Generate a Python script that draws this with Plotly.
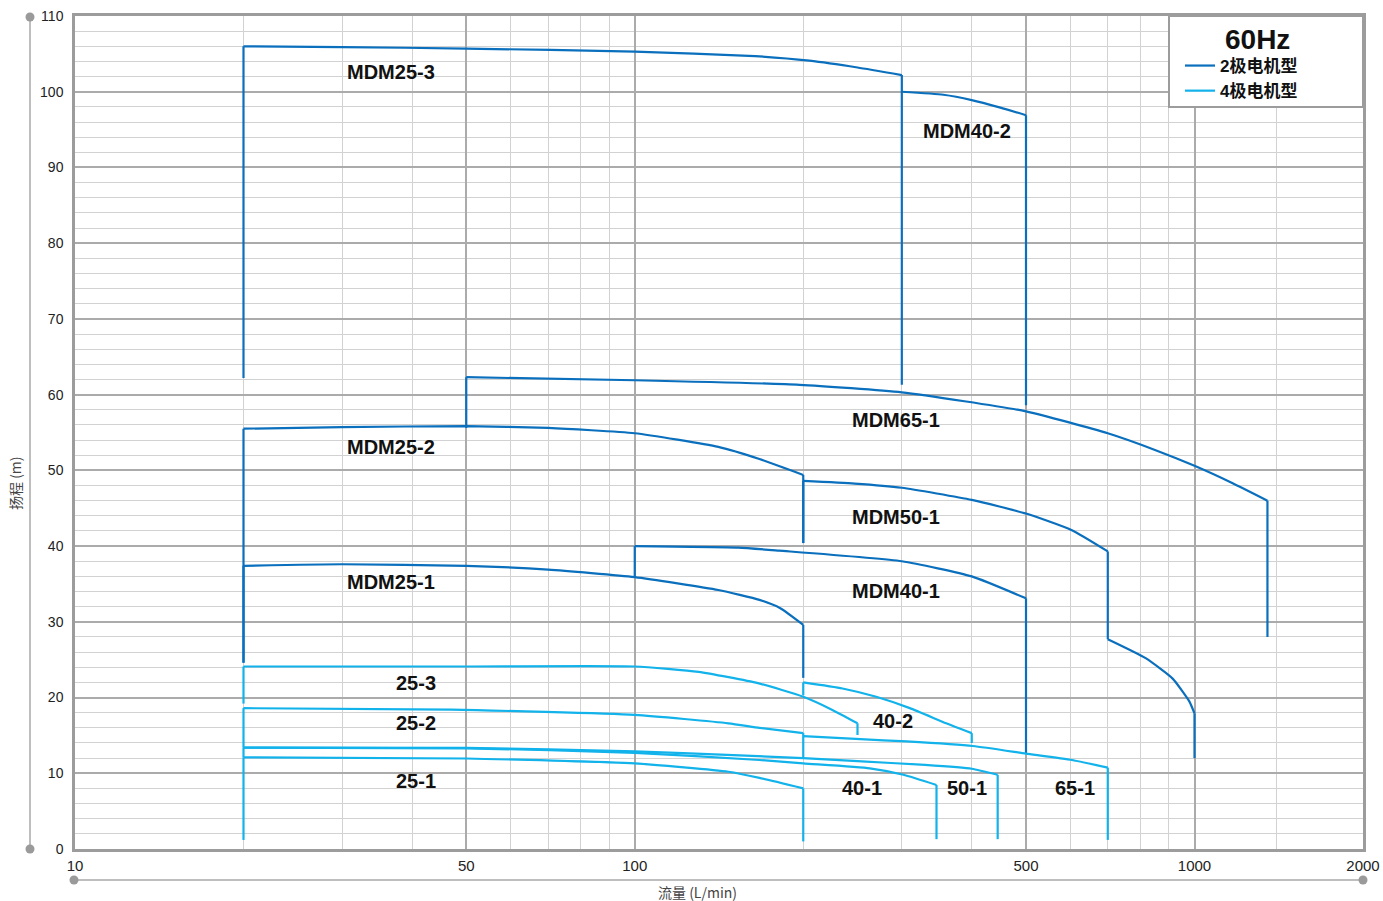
import math
import plotly.graph_objects as go

# ---------------- data (flow Q in L/min, head H in m) ----------------
# 2-pole motor curves
MDM25_3_Q = [20, 30, 50, 100, 164, 205, 250, 300]
MDM25_3_H = [106.0, 105.9, 105.7, 105.3, 104.7, 104.1, 103.2, 102.2]
MDM25_3_DROP = [62.2, 61.3]

MDM40_2_Q = [300, 356, 400, 450, 500]
MDM40_2_H = [100.0, 99.6, 98.9, 97.9, 96.9]
MDM40_2_DROP = [None, 58.6]

MDM65_1_Q = [50, 100, 197, 300, 500, 700, 850, 1000, 1170, 1350]
MDM65_1_H = [62.3, 61.9, 61.3, 60.3, 57.8, 54.9, 52.7, 50.6, 48.3, 46.0]
MDM65_1_DROP = [55.6, 28.0]

MDM25_2_Q = [20, 30, 50, 70, 100, 141, 167, 200]
MDM25_2_H = [55.5, 55.7, 55.85, 55.6, 54.9, 53.1, 51.5, 49.4]
MDM25_2_DROP = [24.6, 40.4]

MDM50_1_Q = [200, 247, 300, 400, 500, 604, 700]
MDM50_1_H = [48.6, 48.25, 47.7, 46.1, 44.3, 42.1, 39.3]
MDM50_1_DROP = [40.4, 27.7]

MDM50_1_TAIL_Q = [700, 818, 914, 979, 1000]
MDM50_1_TAIL_H = [27.7, 25.2, 22.5, 19.5, 17.9]
MDM50_1_TAIL_DROP = [None, 12.0]

MDM40_1_Q = [100, 153, 181, 300, 400, 500]
MDM40_1_H = [40.0, 39.8, 39.4, 38.0, 36.0, 33.1]
MDM40_1_DROP = [35.9, 12.6]

MDM25_1_Q = [20, 30, 50, 70, 100, 141, 167, 182, 200]
MDM25_1_H = [37.4, 37.6, 37.4, 36.9, 35.9, 34.2, 32.9, 31.8, 29.6]
MDM25_1_DROP = [24.6, 22.6]

# 4-pole motor curves
P25_3_Q = [20, 50, 100, 130, 166, 200, 225, 250]
P25_3_H = [24.1, 24.1, 24.1, 23.4, 21.9, 20.1, 18.4, 16.6]
P25_3_DROP = [19.2, 15.05]

P40_2_Q = [200, 235, 270, 310, 360, 400]
P40_2_H = [22.0, 21.2, 20.1, 18.6, 16.6, 15.3]
P40_2_DROP = [20.3, 14.0]

P25_2_Q = [20, 47, 100, 147, 167, 200]
P25_2_H = [18.6, 18.4, 17.7, 16.6, 16.0, 15.3]
P25_2_DROP = [13.4, 12.0]

P65_1_Q = [200, 253, 306, 402, 500, 604, 700]
P65_1_H = [14.9, 14.5, 14.2, 13.6, 12.6, 11.75, 10.75]
P65_1_DROP = [None, 1.2]

P50_1_Q = [20, 50, 100, 150, 200, 250, 330, 400, 445]
P50_1_H = [13.4, 13.35, 12.9, 12.4, 12.0, 11.6, 11.1, 10.6, 9.8]
P50_1_DROP = [12.1, 1.3]

P40_1_Q = [20, 50, 100, 167, 200, 263, 302, 346]
P40_1_H = [13.4, 13.3, 12.7, 11.75, 11.3, 10.65, 9.8, 8.45]
P40_1_DROP = [None, 1.3]

P25_1_Q = [20, 50, 100, 147, 167, 200]
P25_1_H = [12.1, 11.95, 11.3, 10.2, 9.4, 8.0]
P25_1_DROP = [1.2, 1.0]

X_TICKS = [10, 50, 100, 500, 1000, 2000]
X_MINOR = [20, 30, 40, 60, 70, 80, 90, 200, 300, 400, 600, 700, 800, 900, 1400]
Y_TICKS = list(range(0, 111, 10))

LEGEND_2P = "<b>2极电机型</b>"
LEGEND_4P = "<b>4极电机型</b>"

# ---------------- styles ----------------
DARK = "#0a6fbd"
CYAN = "#12b2eb"
LW = 2.2

fig = go.Figure()


def add_series(q, h, drop, color, legend_name=None):
    group = "g2" if color == DARK else "g4"
    if drop[0] is not None:
        fig.add_trace(go.Scatter(x=[q[0], q[0]], y=[drop[0], h[0]], mode="lines",
                                 line=dict(color=color, width=LW), showlegend=False,
                                 legendgroup=group, hoverinfo="skip"))
    fig.add_trace(go.Scatter(x=q, y=h, mode="lines",
                             line=dict(color=color, width=LW, shape="spline", smoothing=0.5),
                             name=legend_name if legend_name else "",
                             showlegend=legend_name is not None, legendgroup=group))
    if drop[1] is not None:
        fig.add_trace(go.Scatter(x=[q[-1], q[-1]], y=[h[-1], drop[1]], mode="lines",
                                 line=dict(color=color, width=LW), showlegend=False,
                                 legendgroup=group, hoverinfo="skip"))


add_series(MDM25_3_Q, MDM25_3_H, MDM25_3_DROP, DARK, LEGEND_2P)
add_series(MDM40_2_Q, MDM40_2_H, MDM40_2_DROP, DARK)
add_series(MDM65_1_Q, MDM65_1_H, MDM65_1_DROP, DARK)
add_series(MDM25_2_Q, MDM25_2_H, MDM25_2_DROP, DARK)
add_series(MDM50_1_Q, MDM50_1_H, MDM50_1_DROP, DARK)
add_series(MDM50_1_TAIL_Q, MDM50_1_TAIL_H, MDM50_1_TAIL_DROP, DARK)
add_series(MDM40_1_Q, MDM40_1_H, MDM40_1_DROP, DARK)
add_series(MDM25_1_Q, MDM25_1_H, MDM25_1_DROP, DARK)

add_series(P25_3_Q, P25_3_H, P25_3_DROP, CYAN, LEGEND_4P)
add_series(P40_2_Q, P40_2_H, P40_2_DROP, CYAN)
add_series(P25_2_Q, P25_2_H, P25_2_DROP, CYAN)
add_series(P65_1_Q, P65_1_H, P65_1_DROP, CYAN)
add_series(P50_1_Q, P50_1_H, P50_1_DROP, CYAN)
add_series(P40_1_Q, P40_1_H, P40_1_DROP, CYAN)
add_series(P25_1_Q, P25_1_H, P25_1_DROP, CYAN)

# ---------------- labels ----------------
LABEL_FONT = dict(family="Liberation Sans, Arial, sans-serif", size=20, color="#111")
labels = [
    ("MDM25-3", 36.7, 102.6), ("MDM40-2", 392, 94.8), ("MDM65-1", 293, 56.6),
    ("MDM25-2", 36.7, 53.1), ("MDM50-1", 293, 43.8), ("MDM25-1", 36.7, 35.3),
    ("MDM40-1", 293, 34.1), ("25-3", 40.6, 21.9), ("25-2", 40.6, 16.6),
    ("40-2", 289, 16.9), ("25-1", 40.6, 9.0), ("40-1", 255, 8.05),
    ("50-1", 392, 8.05), ("65-1", 612, 8.05),
]
for txt, qx, hy in labels:
    fig.add_annotation(x=math.log10(qx), y=hy, xref="x", yref="y", text="<b>%s</b>" % txt,
                       showarrow=False, font=LABEL_FONT, xanchor="center", yanchor="middle")

# ---------------- layout ----------------
L, R, T, B = 75, 20, 16, 52
W, H = 1383, 901
PW, PH = W - L - R, H - T - B


def px_x(px):
    return (px - L) / PW


def px_y(py):
    return (H - B - py) / PH


GRAY = "#9c9c9c"
shapes = [
    dict(type="rect", xref="paper", yref="paper", x0=px_x(1169), x1=px_x(1363),
         y0=px_y(107), y1=px_y(16), fillcolor="white", line=dict(color=GRAY, width=2),
         layer="above"),
    dict(type="line", xref="paper", yref="paper", x0=px_x(30), x1=px_x(30),
         y0=px_y(849), y1=px_y(17), line=dict(color="#a8a8a8", width=1.5)),
    dict(type="line", xref="paper", yref="paper", x0=px_x(74), x1=px_x(1363),
         y0=px_y(880), y1=px_y(880), line=dict(color="#a8a8a8", width=1.5)),
]
for cx, cy in [(30, 17), (30, 849), (74, 880), (1363, 880)]:
    shapes.append(dict(type="circle", xref="paper", yref="paper", xsizemode="pixel",
                       ysizemode="pixel", xanchor=px_x(cx), yanchor=px_y(cy),
                       x0=-4.5, x1=4.5, y0=-4.5, y1=4.5, fillcolor="#9a9a9a",
                       line=dict(width=0)))

fig.add_annotation(xref="paper", yref="paper", x=px_x(1257), y=px_y(40), text="<b>60Hz</b>",
                   showarrow=False, font=dict(family="Liberation Sans, Arial", size=28, color="#111"),
                   xanchor="center", yanchor="middle")
fig.add_annotation(xref="paper", yref="paper", x=px_x(15), y=px_y(483), text="扬程 (m)",
                   textangle=-90, showarrow=False, xanchor="center", yanchor="middle",
                   font=dict(family="Noto Sans CJK SC", size=14, color="#444"))
fig.add_annotation(xref="paper", yref="paper", x=px_x(697), y=px_y(892), text="流量 (L/min)",
                   showarrow=False, xanchor="center", yanchor="middle",
                   font=dict(family="Noto Sans CJK SC", size=14, color="#444"))

fig.update_layout(
    width=W, height=H,
    margin=dict(l=L, r=R, t=T, b=B, autoexpand=False),
    paper_bgcolor="white", plot_bgcolor="white",
    shapes=shapes,
    showlegend=True,
    legend=dict(x=px_x(1180), y=px_y(48), xanchor="left", yanchor="top",
                bgcolor="rgba(0,0,0,0)", borderwidth=0, tracegroupgap=0,
                font=dict(family="Liberation Sans, Noto Sans CJK SC", size=17, color="#111"),
                itemwidth=30),
    xaxis=dict(type="log", range=[1, math.log10(2000)], tickvals=X_TICKS,
               ticktext=[str(v) for v in X_TICKS], automargin=False,
               showgrid=True, gridcolor="#ababab", gridwidth=1.6,
               minor=dict(tickvals=X_MINOR, showgrid=True, gridcolor="#d2d2d2", gridwidth=1.4),
               showline=True, mirror=True, linecolor=GRAY, linewidth=2.5,
               ticks="outside", ticklen=1, tickcolor="rgba(0,0,0,0)",
               tickfont=dict(family="Liberation Sans, Arial", size=15, color="#222"),
               zeroline=False),
    yaxis=dict(range=[0, 110], tickvals=Y_TICKS, automargin=False,
               showgrid=True, gridcolor="#ababab", gridwidth=1.6,
               minor=dict(dtick=2, tick0=0, showgrid=True, gridcolor="#d2d2d2", gridwidth=1.4),
               showline=True, mirror=True, linecolor=GRAY, linewidth=2.5,
               ticks="outside", ticklen=6, tickcolor="rgba(0,0,0,0)",
               tickfont=dict(family="Liberation Sans, Arial", size=14, color="#222"),
               zeroline=False),
)

fig.write_html("out.html", config={"displayModeBar": False},
               post_script="document.body.style.margin='0';document.body.style.overflow='hidden';")
